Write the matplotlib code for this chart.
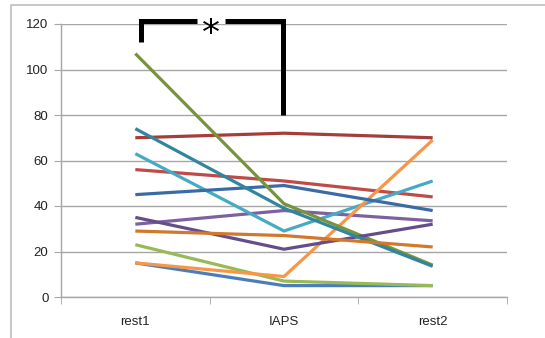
import matplotlib

matplotlib.use("Agg")
import matplotlib.pyplot as plt
from matplotlib.lines import Line2D

# categories on the x axis
conditions = ["rest1", "IAPS", "rest2"]

# one list per subject (Excel default series order)
s_blue = [15, 5, 5]
s_red = [56, 51, 44]
s_green = [23, 7, 5]
s_purple = [32, 38, 33.5]
s_aqua = [63, 29, 51]
s_orange = [15, 9, 69]
s_dkblue = [45, 49, 38]
s_dkred = [70, 72, 70]
s_olive = [107, 41, 14]
s_dkpurple = [35, 21, 32]
s_teal = [74, 39, 13.5]
s_dkorange = [29, 27, 22]

series = [s_blue, s_red, s_green, s_purple, s_aqua, s_orange,
          s_dkblue, s_dkred, s_olive, s_dkpurple, s_teal, s_dkorange]
colors = ["#4A7EBB", "#BE4B48", "#98B954", "#7D60A0", "#46AAC5", "#F79646",
          "#3B6BA5", "#A63D3B", "#77933C", "#644D8A", "#31859C", "#D2772B"]

yticks = [0, 20, 40, 60, 80, 100, 120]

GRID = "#A6A6A6"

fig = plt.figure(figsize=(5.45, 3.38), dpi=100)
ax = fig.add_axes([61 / 545, 1 - 297 / 338, (507 - 61) / 545, (297 - 24) / 338])

x = list(range(len(conditions)))
for vals, c in zip(series, colors):
    ax.plot(x, vals, color=c, lw=2.3, solid_capstyle="butt", zorder=3)

ax.set_xlim(-0.5, len(conditions) - 0.5)
ax.set_ylim(0, 120)
ax.set_yticks(yticks)
ax.set_xticks(x)
ax.set_xticklabels(conditions)
ax.set_xticks([-0.5, 0.5, 1.5, 2.5], minor=True)
ax.tick_params(axis="x", which="major", length=0, pad=14)
ax.tick_params(axis="x", which="minor", length=5, color=GRID, direction="out")
ax.tick_params(axis="y", length=5, color=GRID, direction="out", pad=4)
for lab in ax.get_xticklabels() + ax.get_yticklabels():
    lab.set_fontfamily("Liberation Sans")
    lab.set_fontsize(9.5)
    lab.set_color("#222222")

ax.yaxis.grid(True, color=GRID, lw=1.0)
ax.set_axisbelow(True)
for side in ("top", "right"):
    ax.spines[side].set_visible(False)
for side in ("left", "bottom"):
    ax.spines[side].set_color(GRID)
    ax.spines[side].set_linewidth(1.0)

# significance bracket between rest1 and IAPS
bx0, bx1 = 0.04, 0.99
ytop = 121.5
kw = dict(color="black", lw=3.6, clip_on=False, zorder=5,
          solid_capstyle="butt", solid_joinstyle="miter")
ax.plot([bx0, bx0, 0.415], [112, ytop, ytop], **kw)
ax.plot([0.60, bx1, bx1], [ytop, ytop, 80], **kw)
ax.text(0.508, ytop - 6, "*", ha="center", va="center", fontsize=26,
        fontfamily="DejaVu Sans", color="black", clip_on=False)

# outer chart frame
fig.add_artist(Line2D([11 / 545, 11 / 545, 1.0], [0, 1 - 5 / 338, 1 - 5 / 338],
                      transform=fig.transFigure, color="#BDBDBD", lw=1.2))

fig.savefig("out.png", dpi=100)
